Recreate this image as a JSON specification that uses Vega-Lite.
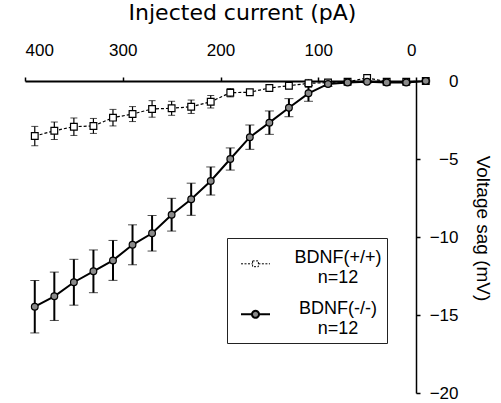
{
  "$schema": "https://vega.github.io/schema/vega-lite/v6.json",
  "autosize": {"type": "none"},
  "padding": {"left": 25, "top": 81, "right": 85, "bottom": 10},
  "width": 391,
  "height": 312,
  "background": "white",
  "config": {
    "view": {"stroke": null},
    "font": "Liberation Sans",
    "axis": {"grid": false, "domainColor": "black", "domainWidth": 1.5, "tickColor": "black", "tickWidth": 1.5, "labelColor": "black", "titleColor": "black", "labelFont": "Liberation Sans", "titleFont": "Liberation Sans", "titleFontWeight": "normal"}
  },
  "data": {"values": [
    {"current": 390, "sag": -14.47, "sem": 1.68, "genotype": "BDNF(-/-)"},
    {"current": 370, "sag": -13.8, "sem": 1.55, "genotype": "BDNF(-/-)"},
    {"current": 350, "sag": -12.9, "sem": 1.47, "genotype": "BDNF(-/-)"},
    {"current": 330, "sag": -12.2, "sem": 1.37, "genotype": "BDNF(-/-)"},
    {"current": 310, "sag": -11.5, "sem": 1.28, "genotype": "BDNF(-/-)"},
    {"current": 290, "sag": -10.5, "sem": 1.28, "genotype": "BDNF(-/-)"},
    {"current": 270, "sag": -9.76, "sem": 1.14, "genotype": "BDNF(-/-)"},
    {"current": 250, "sag": -8.57, "sem": 1.05, "genotype": "BDNF(-/-)"},
    {"current": 230, "sag": -7.58, "sem": 1.03, "genotype": "BDNF(-/-)"},
    {"current": 210, "sag": -6.41, "sem": 0.9, "genotype": "BDNF(-/-)"},
    {"current": 190, "sag": -5.0, "sem": 0.71, "genotype": "BDNF(-/-)"},
    {"current": 170, "sag": -3.6, "sem": 0.78, "genotype": "BDNF(-/-)"},
    {"current": 150, "sag": -2.67, "sem": 0.75, "genotype": "BDNF(-/-)"},
    {"current": 130, "sag": -1.71, "sem": 0.58, "genotype": "BDNF(-/-)"},
    {"current": 110, "sag": -0.79, "sem": 0.51, "genotype": "BDNF(-/-)"},
    {"current": 90, "sag": -0.19, "sem": 0.15, "genotype": "BDNF(-/-)"},
    {"current": 70, "sag": -0.1, "sem": 0.08, "genotype": "BDNF(-/-)"},
    {"current": 50, "sag": -0.05, "sem": 0.08, "genotype": "BDNF(-/-)"},
    {"current": 30, "sag": -0.1, "sem": 0.08, "genotype": "BDNF(-/-)"},
    {"current": 10, "sag": -0.1, "sem": 0.06, "genotype": "BDNF(-/-)"},
    {"current": -10, "sag": 0.0, "sem": 0.05, "genotype": "BDNF(-/-)"},
    {"current": 390, "sag": -3.53, "sem": 0.62, "genotype": "BDNF(+/+)"},
    {"current": 370, "sag": -3.19, "sem": 0.56, "genotype": "BDNF(+/+)"},
    {"current": 350, "sag": -2.93, "sem": 0.56, "genotype": "BDNF(+/+)"},
    {"current": 330, "sag": -2.88, "sem": 0.48, "genotype": "BDNF(+/+)"},
    {"current": 310, "sag": -2.35, "sem": 0.53, "genotype": "BDNF(+/+)"},
    {"current": 290, "sag": -2.12, "sem": 0.48, "genotype": "BDNF(+/+)"},
    {"current": 270, "sag": -1.79, "sem": 0.53, "genotype": "BDNF(+/+)"},
    {"current": 250, "sag": -1.75, "sem": 0.45, "genotype": "BDNF(+/+)"},
    {"current": 230, "sag": -1.65, "sem": 0.43, "genotype": "BDNF(+/+)"},
    {"current": 210, "sag": -1.33, "sem": 0.4, "genotype": "BDNF(+/+)"},
    {"current": 190, "sag": -0.75, "sem": 0.27, "genotype": "BDNF(+/+)"},
    {"current": 170, "sag": -0.72, "sem": 0.16, "genotype": "BDNF(+/+)"},
    {"current": 150, "sag": -0.45, "sem": 0.2, "genotype": "BDNF(+/+)"},
    {"current": 130, "sag": -0.3, "sem": 0.2, "genotype": "BDNF(+/+)"},
    {"current": 110, "sag": -0.15, "sem": 0.25, "genotype": "BDNF(+/+)"},
    {"current": 90, "sag": -0.1, "sem": 0.15, "genotype": "BDNF(+/+)"},
    {"current": 70, "sag": -0.05, "sem": 0.1, "genotype": "BDNF(+/+)"},
    {"current": 50, "sag": 0.2, "sem": 0.1, "genotype": "BDNF(+/+)"},
    {"current": 30, "sag": -0.05, "sem": 0.08, "genotype": "BDNF(+/+)"},
    {"current": 10, "sag": -0.05, "sem": 0.06, "genotype": "BDNF(+/+)"},
    {"current": -10, "sag": 0.0, "sem": 0.05, "genotype": "BDNF(+/+)"}
  ]},
  "encoding": {
    "x": {"field": "current", "type": "quantitative",
      "scale": {"domain": [0, 400], "reverse": true, "nice": false, "zero": false},
      "axis": {"orient": "top", "values": [0, 100, 200, 300, 400], "title": "Injected current (pA)",
        "labelFontSize": 17, "titleFontSize": 22, "titleFont": "DejaVu Sans", "tickSize": 4, "labelPadding": 18, "domainWidth": 2,
        "titleX": 217, "titleY": -62, "titleBaseline": "alphabetic",
        "encode": {"ticks": {"update": {"y": {"value": 4}}}}}},
    "y": {"field": "sag", "type": "quantitative",
      "scale": {"domain": [-20, 0], "nice": false, "zero": false},
      "axis": {"orient": "right", "values": [0, -5, -10, -15, -20], "title": "Voltage sag (mV)",
        "labelFontSize": 17, "titleFontSize": 19, "tickSize": 4, "labelPadding": 38, "labelAlign": "right",
        "titleX": 66, "titleY": 147, "titleAngle": 90, "titleBaseline": "middle",
        "encode": {"ticks": {"update": {"x": {"value": -4}}}}}}
  },
  "layer": [
    {
      "transform": [{"filter": "datum.genotype == 'BDNF(-/-)'"}],
      "mark": {"type": "errorbar", "color": "black", "ticks": {"size": 9, "strokeWidth": 2, "color": "black"}, "rule": {"strokeWidth": 2, "color": "black"}},
      "encoding": {"yError": {"field": "sem"}}
    },
    {
      "transform": [{"filter": "datum.genotype == 'BDNF(-/-)'"}],
      "mark": {"type": "line", "color": "black", "strokeWidth": 2}
    },
    {
      "transform": [{"filter": "datum.genotype == 'BDNF(+/+)'"}],
      "mark": {"type": "errorbar", "color": "black", "ticks": {"size": 7, "strokeWidth": 1.2, "color": "black"}, "rule": {"strokeWidth": 1.2, "color": "black"}},
      "encoding": {"yError": {"field": "sem"}}
    },
    {
      "transform": [{"filter": "datum.genotype == 'BDNF(+/+)'"}],
      "mark": {"type": "line", "color": "black", "strokeWidth": 1.2, "strokeDash": [3, 2]}
    },
    {
      "transform": [{"filter": "datum.genotype == 'BDNF(+/+)'"}],
      "mark": {"type": "point", "shape": "square", "filled": true, "fill": "white", "stroke": "black", "strokeWidth": 1.2, "opacity": 1, "size": 45}
    },
    {
      "transform": [{"filter": "datum.genotype == 'BDNF(-/-)'"}],
      "mark": {"type": "point", "shape": "circle", "filled": true, "fill": "#8a8a8a", "stroke": "black", "strokeWidth": 1.2, "opacity": 1, "size": 45}
    },
    {
      "transform": [{"filter": "datum.genotype == 'none'"}],
      "mark": {"type": "point", "filled": true, "stroke": "black", "strokeWidth": 1.2, "opacity": 1},
      "encoding": {
        "fill": {"field": "genotype", "type": "nominal",
          "scale": {"domain": ["BDNF(+/+)", "BDNF(-/-)"], "range": ["white", "#8a8a8a"]},
          "legend": null},
        "strokeWidth": {"field": "genotype", "type": "nominal",
          "scale": {"domain": ["BDNF(+/+)", "BDNF(-/-)"], "range": [1, 2]},
          "legend": null},
        "strokeDash": {"field": "genotype", "type": "nominal",
          "scale": {"domain": ["BDNF(+/+)", "BDNF(-/-)"], "range": [[2, 1.5], [1, 0]]},
          "legend": null},
        "shape": {"field": "genotype", "type": "nominal",
          "scale": {"domain": ["BDNF(+/+)", "BDNF(-/-)"],
            "range": ["M-1,0.4L-0.2,0.4M0.2,0.4L1,0.4M-0.2,0.2L0.2,0.2L0.2,0.6L-0.2,0.6Z", "M-1,0.4L-0.24,0.4M0.24,0.4L1,0.4M0.24,0.4A0.24,0.24,0,1,1,-0.24,0.4A0.24,0.24,0,1,1,0.24,0.4Z"]},
          "legend": {
            "title": null, "orient": "none", "legendX": 202, "legendY": 157,
            "strokeColor": "#222", "fillColor": "white", "padding": 5,
            "rowPadding": 6, "symbolSize": 841, "symbolOffset": 8,
            "labelFontSize": 18, "labelFont": "Liberation Sans", "labelColor": "black",
            "labelExpr": "[datum.label, 'n=12']", "labelAlign": "center", "labelOffset": 67, "labelLimit": 0,
            "encode": {
              "symbols": {
                "stroke": {"value": "black"},
                "opacity": {"value": 1}
              },
              "labels": {"lineHeight": {"value": 22}}
            }
          }}
      }
    }
  ]
}
